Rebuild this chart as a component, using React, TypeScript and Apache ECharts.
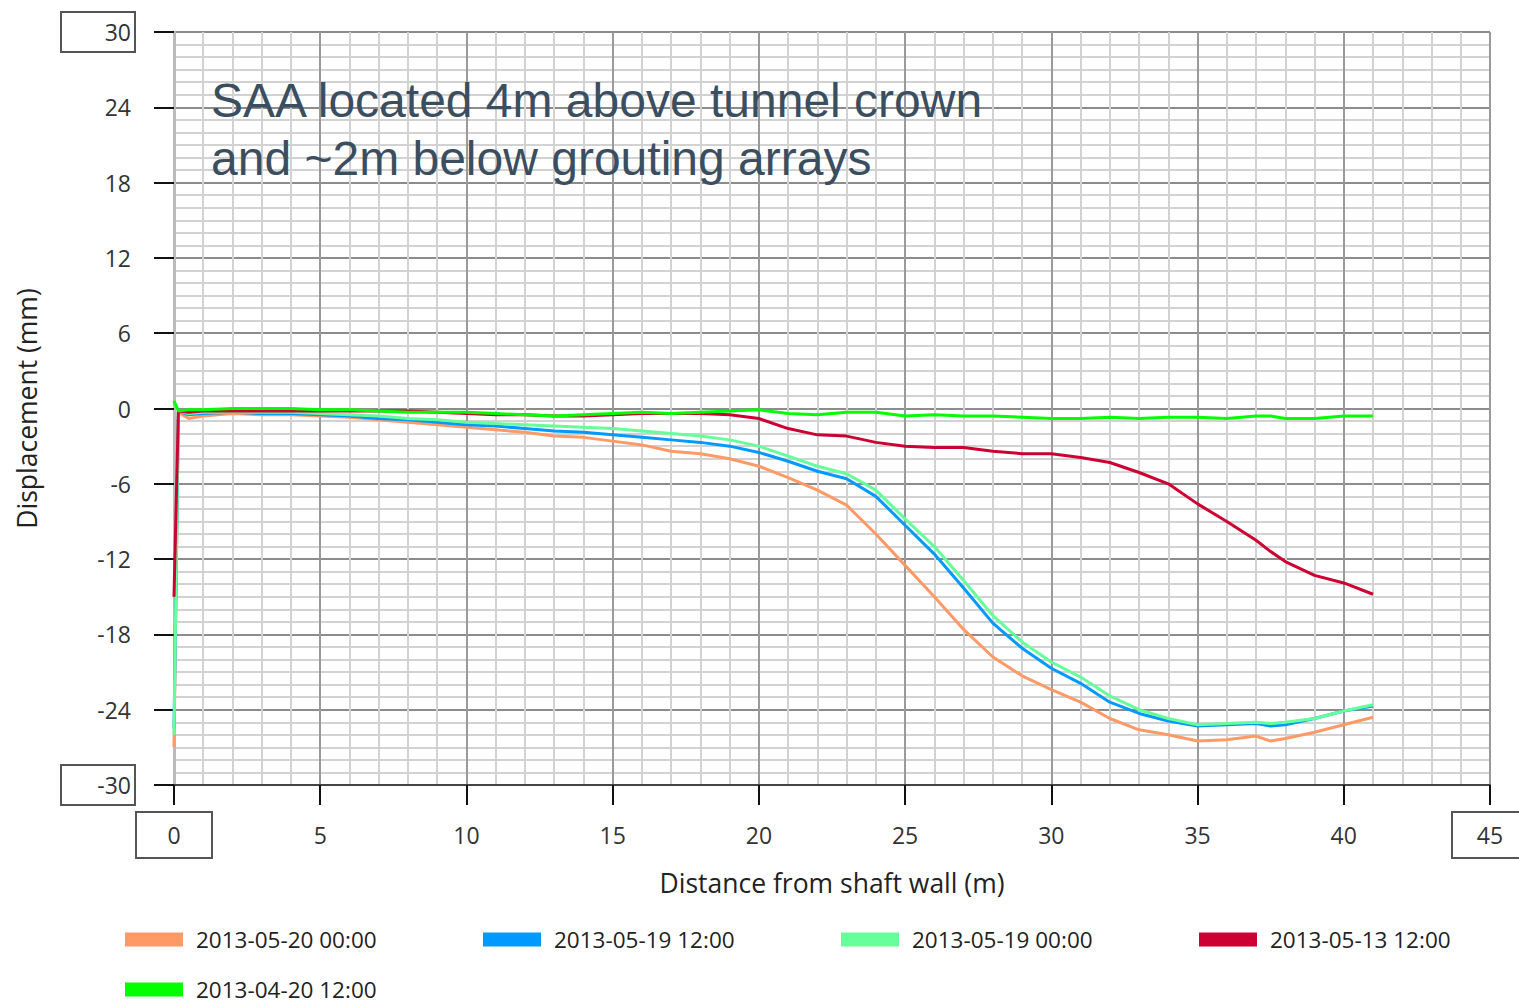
import React, { useEffect, useRef } from "react";
import * as echarts from "echarts";

const distances = [0, 0.15, 0.5, 1, 2, 3, 4, 5, 6, 7, 8, 9, 10, 11, 12, 13, 14, 15, 16, 17, 18, 19, 20, 21, 22, 23, 24, 25, 26, 27, 28, 29, 30, 31, 32, 33, 34, 35, 36, 37, 37.5, 38, 39, 40, 41];

const may20_0000 = [-27, -0.3, -0.8, -0.6, -0.4, -0.5, -0.5, -0.6, -0.7, -0.9, -1.1, -1.3, -1.5, -1.7, -1.9, -2.2, -2.3, -2.6, -2.9, -3.4, -3.6, -4.0, -4.6, -5.5, -6.5, -7.7, -10.0, -12.5, -15.0, -17.6, -19.8, -21.3, -22.4, -23.4, -24.7, -25.6, -26.0, -26.5, -26.4, -26.1, -26.5, -26.3, -25.8, -25.2, -24.6];
const may19_1200 = [-25.5, -0.2, -0.5, -0.4, -0.3, -0.4, -0.4, -0.5, -0.6, -0.8, -0.9, -1.1, -1.3, -1.4, -1.6, -1.8, -1.9, -2.1, -2.3, -2.5, -2.7, -3.0, -3.5, -4.2, -5.0, -5.6, -7.0, -9.3, -11.6, -14.3, -17.1, -19.1, -20.7, -21.9, -23.4, -24.3, -24.9, -25.3, -25.2, -25.1, -25.3, -25.2, -24.7, -24.1, -23.7];
const may19_0000 = [-26, -0.2, -0.4, -0.3, -0.3, -0.3, -0.3, -0.4, -0.5, -0.6, -0.8, -0.9, -1.1, -1.2, -1.3, -1.4, -1.5, -1.6, -1.8, -2.0, -2.2, -2.5, -3.0, -3.8, -4.6, -5.2, -6.5, -8.8, -11.0, -13.7, -16.5, -18.6, -20.2, -21.4, -22.9, -24.0, -24.7, -25.2, -25.1, -25.0, -25.1, -25.0, -24.7, -24.1, -23.6];
const may13_1200 = [-15, -0.2, -0.3, -0.2, -0.2, -0.2, -0.2, -0.2, -0.2, -0.2, -0.2, -0.3, -0.4, -0.5, -0.5, -0.6, -0.6, -0.5, -0.4, -0.4, -0.4, -0.5, -0.8, -1.6, -2.1, -2.2, -2.7, -3.0, -3.1, -3.1, -3.4, -3.6, -3.6, -3.9, -4.3, -5.1, -6.0, -7.6, -9.0, -10.5, -11.4, -12.2, -13.3, -13.9, -14.8];
const apr20_1200 = [0.6, -0.2, -0.1, -0.1, 0.0, 0.0, 0.0, -0.1, -0.1, -0.2, -0.3, -0.3, -0.3, -0.4, -0.5, -0.6, -0.5, -0.4, -0.3, -0.4, -0.3, -0.2, -0.1, -0.4, -0.5, -0.3, -0.3, -0.6, -0.5, -0.6, -0.6, -0.7, -0.8, -0.8, -0.7, -0.8, -0.7, -0.7, -0.8, -0.6, -0.6, -0.8, -0.8, -0.6, -0.6];

const seriesNames = ["2013-05-20 00:00", "2013-05-19 12:00", "2013-05-19 00:00", "2013-05-13 12:00", "2013-04-20 12:00"];
const seriesValues = [may20_0000, may19_1200, may19_0000, may13_1200, apr20_1200];
const seriesColors = ["#FF9966", "#0099FF", "#66FF99", "#CC0033", "#00FF00"];

const titleLines = ["SAA located 4m above tunnel crown", "and ~2m below grouting arrays"];
const xAxisName = "Distance from shaft wall (m)";
const yAxisName = "Displacement (mm)";
const boxedY = [30, -30];
const boxedX = [0, 45];

const FONT = "'Open Sans', 'DejaVu Sans', sans-serif";

const legendBase = {
  left: 125,
  width: 1420,
  padding: 0,
  icon: "rect",
  itemWidth: 58,
  itemHeight: 14,
  itemGap: 20,
  textStyle: {
    fontFamily: FONT,
    fontSize: 22.5,
    color: "#222",
    width: 267,
    padding: [0, 0, 0, 8],
    lineHeight: 22,
  },
};

export default function App() {
  const ref = useRef<HTMLDivElement>(null);
  useEffect(() => {
    document.body.style.margin = "0";
    if (!ref.current) return;
    const chart = echarts.init(ref.current, null, { renderer: "svg" });
    const option: any = {
      animation: false,
      backgroundColor: "#ffffff",
      grid: { left: 174, right: 29, top: 32, bottom: 222, outerBoundsMode: "none" },
      graphic: [
        {
          type: "text",
          left: 211,
          top: 71,
          z: 10,
          style: {
            text: titleLines.join("\n"),
            fontFamily: "'Liberation Sans', Arial, sans-serif",
            fontSize: 48,
            lineHeight: 58,
            fill: "#3b4e60",
          },
        },
      ],
      legend: [
        { ...legendBase, top: 928, data: seriesNames.slice(0, 4) },
        { ...legendBase, top: 978, data: seriesNames.slice(4) },
      ],
      xAxis: {
        type: "value",
        min: 0,
        max: 45,
        interval: 5,
        name: xAxisName,
        nameLocation: "middle",
        nameGap: 84,
        nameTextStyle: { fontFamily: FONT, fontSize: 26.5, color: "#222" },
        axisLine: { show: true, onZero: false, lineStyle: { color: "#444", width: 2 } },
        axisTick: { show: true, length: 20, lineStyle: { color: "#111", width: 2 } },
        minorTick: { show: false, splitNumber: 5 },
        splitLine: { show: true, showMinLine: false, lineStyle: { color: "#9a9a9a", width: 2 } },
        minorSplitLine: { show: true, lineStyle: { color: "#d2d2d2", width: 2 } },
        axisLabel: {
          margin: 27,
          showMinLabel: true,
          showMaxLabel: true,
          formatter: (v: number) => (boxedX.includes(v) ? `{b|${v}}` : `{n|${v}}`),
          rich: {
            n: { fontFamily: FONT, fontSize: 23, color: "#333", padding: [11, 0, 11, 0], height: 24 },
            b: {
              fontFamily: FONT,
              fontSize: 23,
              color: "#333",
              borderColor: "#555",
              borderWidth: 2,
              padding: [11, 4, 11, 4],
              width: 68,
              height: 24,
              align: "center",
            },
          },
        },
      },
      yAxis: {
        type: "value",
        min: -30,
        max: 30,
        interval: 6,
        name: yAxisName,
        nameLocation: "middle",
        nameGap: 134,
        nameTextStyle: { fontFamily: FONT, fontSize: 26.5, color: "#222" },
        axisLine: { show: true, onZero: false, lineStyle: { color: "#bbbbbb", width: 3 } },
        axisTick: { show: true, length: 20, lineStyle: { color: "#111", width: 2 } },
        minorTick: { show: false, splitNumber: 6 },
        splitLine: { show: true, lineStyle: { color: "#8c8c8c", width: 2 } },
        minorSplitLine: { show: true, lineStyle: { color: "#d2d2d2", width: 2 } },
        axisLabel: {
          margin: 39,
          showMinLabel: true,
          showMaxLabel: true,
          formatter: (v: number) => (boxedY.includes(v) ? `{b|${v}}` : `{n|${v}}`),
          rich: {
            n: { fontFamily: FONT, fontSize: 23, color: "#333", padding: [0, 4, 0, 0] },
            b: {
              fontFamily: FONT,
              fontSize: 23,
              color: "#333",
              borderColor: "#555",
              borderWidth: 2,
              padding: [8, 4, 8, 4],
              width: 66,
              height: 24,
              align: "right",
            },
          },
        },
      },
      series: seriesNames.map((name, i) => ({
        name,
        type: "line",
        showSymbol: false,
        symbol: "none",
        color: seriesColors[i],
        lineStyle: { color: seriesColors[i], width: 3 },
        itemStyle: { color: seriesColors[i] },
        data: distances.map((d, j) => [d, seriesValues[i][j]]),
      })),
    };
    chart.setOption(option);
    return () => chart.dispose();
  }, []);
  return <div ref={ref} style={{ width: 1519, height: 1007 }} />;
}
